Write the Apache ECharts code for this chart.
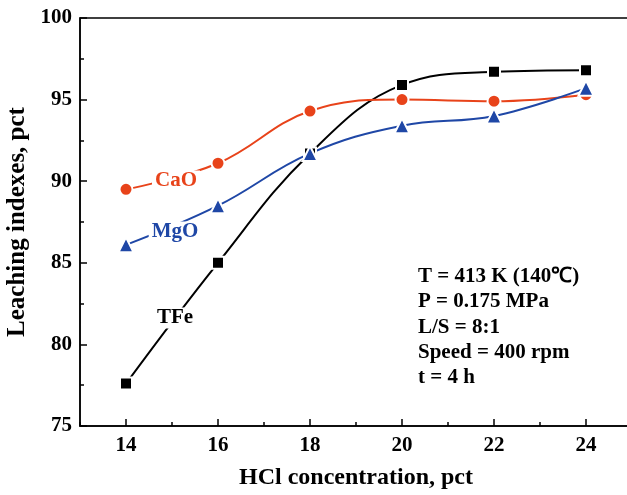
<!DOCTYPE html>
<html>
<head>
<meta charset="utf-8">
<script src="https://cdn.jsdelivr.net/npm/echarts@6/dist/echarts.min.js"></script>
<style>html,body{margin:0;padding:0;background:#fff}#main{width:627px;height:495px}</style>
</head>
<body>
<div id="main"></div>
<script>
// 数据
var hcl = [14, 16, 18, 20, 22, 24];
var tfe = [77.6, 85.0, 91.7, 95.9, 96.7, 96.8];
var cao = [89.5, 91.1, 94.3, 95.0, 94.9, 95.3];
var mgo = [86.1, 88.5, 91.7, 93.4, 94.0, 95.7];
var xMajor = [14, 16, 18, 20, 22, 24];
var notes = ['T = 413 K (140℃)', 'P = 0.175 MPa', 'L/S = 8:1', 'Speed = 400 rpm', 't = 4 h'];

var FONT = '"Liberation Serif", "Times New Roman", serif';
function pairs(ys) { return hcl.map(function (x, i) { return [x, ys[i]]; }); }
function tag(text, x, y, color) {
    return {
        type: 'text', x: x, y: y, z: 100,
        style: { text: text, fill: color, fontSize: 21, fontWeight: 'bold', fontFamily: FONT,
                 align: 'center', verticalAlign: 'middle', backgroundColor: '#fff', padding: [0, 3] }
    };
}

var myChart = echarts.init(document.getElementById('main'));
myChart.setOption({
    animation: false,
    textStyle: { fontFamily: FONT },
    grid: {
        left: 80, right: -5, top: 18, bottom: 69,
        containLabel: false, outerBoundsMode: 'none',
        show: true, borderColor: '#000', borderWidth: 1.5
    },
    xAxis: [
        {
            type: 'value', min: 13, max: 25, interval: 1, position: 'bottom',
            name: 'HCl concentration, pct', nameLocation: 'middle', nameGap: 40,
            nameTextStyle: { fontSize: 24, fontWeight: 'bold', color: '#000', fontFamily: FONT },
            axisLine: { lineStyle: { color: '#000', width: 1.5 } },
            axisTick: { inside: true, length: 4, lineStyle: { color: '#000', width: 1.5 } },
            axisLabel: { show: false },
            splitLine: { show: false }
        },
        {
            type: 'value', min: 13, max: 25, position: 'bottom',
            axisLine: { show: false },
            axisTick: { inside: true, length: 7, customValues: xMajor, lineStyle: { color: '#000', width: 1.5 } },
            axisLabel: { customValues: xMajor, margin: 9, fontSize: 21, fontWeight: 'bold', color: '#000', fontFamily: FONT },
            splitLine: { show: false }
        }
    ],
    yAxis: {
        type: 'value', min: 75, max: 100, interval: 5,
        name: 'Leaching indexes, pct', nameLocation: 'middle', nameGap: 47, nameRotate: 90,
        nameTextStyle: { fontSize: 25, fontWeight: 'bold', color: '#000', fontFamily: FONT },
        axisLine: { show: true, lineStyle: { color: '#000', width: 1.5 } },
        axisTick: { inside: true, length: 7, lineStyle: { color: '#000', width: 1.5 } },
        minorTick: { show: true, splitNumber: 2, length: 4, lineStyle: { color: '#000', width: 1.5 } },
        axisLabel: { margin: 8, fontSize: 21, fontWeight: 'bold', color: '#000', fontFamily: FONT },
        splitLine: { show: false }
    },
    series: [
        {
            name: 'TFe', type: 'line', smooth: 0.4, data: pairs(tfe),
            symbol: 'rect', symbolSize: 12,
            lineStyle: { color: '#000', width: 2 },
            itemStyle: { color: '#000', borderColor: '#fff', borderWidth: 2 }
        },
        {
            name: 'CaO', type: 'line', smooth: 0.4, data: pairs(cao),
            symbol: 'circle', symbolSize: 13,
            lineStyle: { color: '#e8431a', width: 2 },
            itemStyle: { color: '#e8431a', borderColor: '#fff', borderWidth: 2 }
        },
        {
            name: 'MgO', type: 'line', smooth: 0.4, data: pairs(mgo),
            symbol: 'triangle', symbolSize: 15,
            lineStyle: { color: '#1f47a6', width: 2 },
            itemStyle: { color: '#1f47a6', borderColor: '#fff', borderWidth: 2 }
        }
    ],
    graphic: [
        tag('CaO', 176, 181, '#e8431a'),
        tag('MgO', 175, 232, '#1f47a6'),
        tag('TFe', 175, 318, '#000'),
        {
            type: 'text', left: 418, top: 264, z: 100,
            style: { text: notes.join('\n'), fill: '#000', fontSize: 21, fontWeight: 'bold',
                     fontFamily: FONT, lineHeight: 25.3 }
        }
    ]
});
</script>
</body>
</html>
